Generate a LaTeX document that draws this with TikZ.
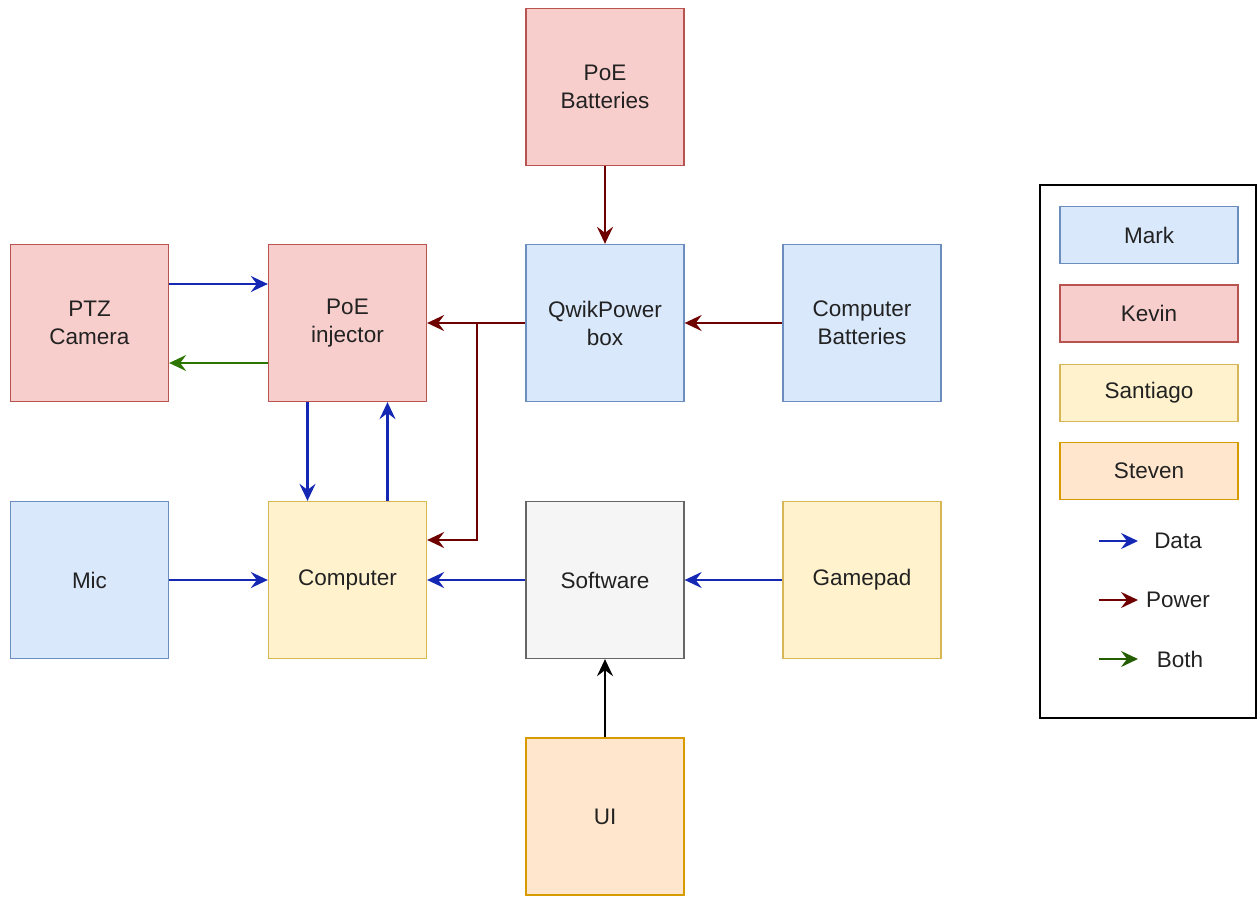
\documentclass[tikz,border=0pt]{standalone}
\usepackage{fontspec}
\setmainfont{Liberation Sans}
\usetikzlibrary{arrows.meta}
\definecolor{markfill}{HTML}{DAE8FC}
\definecolor{markline}{HTML}{6C8EBF}
\definecolor{kevinfill}{HTML}{F8CECC}
\definecolor{kevinline}{HTML}{B85450}
\definecolor{santfill}{HTML}{FFF2CC}
\definecolor{santline}{HTML}{D6B656}
\definecolor{stevfill}{HTML}{FFE6CC}
\definecolor{stevline}{HTML}{D79B00}
\definecolor{softfill}{HTML}{F5F5F5}
\definecolor{softline}{HTML}{666666}
\definecolor{datacol}{HTML}{1428B4}
\definecolor{powercol}{HTML}{6F0000}
\definecolor{bothcol}{HTML}{2D7600}
\definecolor{txt}{HTML}{222222}

\begin{document}
\begin{tikzpicture}[x=1pt,y=-1pt,
  box/.style={draw,line width=1.3pt,minimum width=158pt,minimum height=157pt,align=center,text=txt,font=\fontsize{22.5}{28}\selectfont},
  legbox/.style={draw,line width=1.3pt,minimum width=178pt,minimum height=57pt,text=txt,font=\fontsize{22.5}{28}\selectfont},
  legtext/.style={text=txt,font=\fontsize{22.5}{28}\selectfont},
  markbox/.style={box,fill=markfill,draw=markline},
  kevinbox/.style={box,fill=kevinfill,draw=kevinline},
  santbox/.style={box,fill=santfill,draw=santline},
  stevbox/.style={box,fill=stevfill,draw=stevline},
  tiparrow/.style={-{Stealth[length=17pt,width=16pt,inset=6pt]},line width=2.2pt},
  dataarrow/.style={tiparrow,draw=datacol},
  powerarrow/.style={tiparrow,draw=powercol},
  botharrow/.style={tiparrow,draw=bothcol}]
  \useasboundingbox (0,0) rectangle (1257,896);
  \node[kevinbox] (poebat) at (605,87) {PoE\\Batteries};
  \node[kevinbox] (ptz) at (89.5,323) {PTZ\\Camera};
  \node[kevinbox] (inj) at (347.5,323) {PoE\\injector};
  \node[markbox] (qwik) at (605,323) {QwikPower\\box};
  \node[markbox] (compbat) at (862,323) {Computer\\Batteries};
  \node[markbox] (mic) at (89.5,580) {Mic};
  \node[santbox] (comp) at (347.5,580) {Computer};
  \node[box,fill=softfill,draw=softline] (soft) at (605,580) {Software};
  \node[santbox] (pad) at (862,580) {Gamepad};
  \node[stevbox] (ui) at (605,816.5) {UI};
  \coordinate (split) at (477,323);
  \draw[powerarrow] (poebat) -- (qwik);
  \draw[powerarrow] (compbat) -- (qwik);
  \draw[powerarrow] (qwik) -- (inj);
  \draw[powerarrow] (split) |- ([yshift=40pt]comp.east);
  \draw[dataarrow] ([yshift=39pt]ptz.east) -- ([yshift=39pt]inj.west);
  \draw[botharrow] ([yshift=-40pt]inj.west) -- ([yshift=-40pt]ptz.east);
  \draw[dataarrow] ([xshift=-40pt]inj.south) -- ([xshift=-40pt]comp.north);
  \draw[dataarrow] ([xshift=40pt]comp.north) -- ([xshift=40pt]inj.south);
  \draw[dataarrow] (mic) -- (comp);
  \draw[dataarrow] (soft) -- (comp);
  \draw[dataarrow] (pad) -- (soft);
  \draw[tiparrow,black] (ui) -- (soft);
  % legend
  \draw[line width=1.3pt] (1040,185) rectangle (1256,718);
  \node[legbox,fill=markfill,draw=markline] (lmark) at (1149,235) {Mark};
  \node[legbox,fill=kevinfill,draw=kevinline] (lkevin) at (1149,313.5) {Kevin};
  \node[legbox,fill=santfill,draw=santline] (lsant) at (1149,393) {Santiago};
  \node[legbox,fill=stevfill,draw=stevline] (lstev) at (1149,471) {Steven};
  \coordinate (dataA) at (1099,541);
  \coordinate (dataB) at (1138,541);
  \coordinate (powerA) at (1099,600);
  \coordinate (powerB) at (1138,600);
  \coordinate (bothA) at (1099,659);
  \coordinate (bothB) at (1138,659);
  \draw[dataarrow] (dataA) -- (dataB);
  \draw[powerarrow] (powerA) -- (powerB);
  \draw[botharrow,draw=bothcol!80!black] (bothA) -- (bothB);
  \node[legtext] (ldata) at (1178,541) {Data};
  \node[legtext] (lpower) at (1178,600) {Power};
  \node[legtext] (lboth) at (1180,659) {Both};
\end{tikzpicture}
\end{document}
